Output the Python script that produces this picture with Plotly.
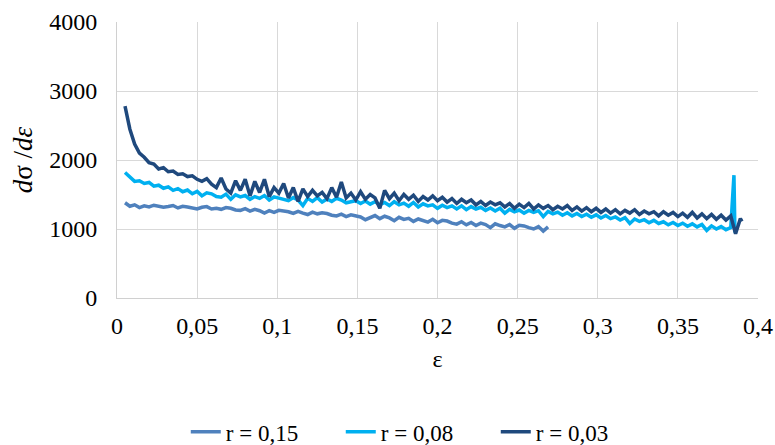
import plotly.graph_objects as go

strain = [0.005, 0.008, 0.011, 0.014, 0.017, 0.020, 0.023, 0.026, 0.029, 0.032,
          0.035, 0.038, 0.041, 0.044, 0.047, 0.050, 0.053, 0.056, 0.059, 0.062,
          0.065, 0.068, 0.071, 0.074, 0.077, 0.080, 0.083, 0.086, 0.089, 0.092,
          0.095, 0.098, 0.101, 0.104, 0.107, 0.110, 0.113, 0.116, 0.119, 0.122,
          0.125, 0.128, 0.131, 0.134, 0.137, 0.140, 0.143, 0.146, 0.149, 0.152,
          0.155, 0.158, 0.161, 0.164, 0.167, 0.170, 0.173, 0.176, 0.179, 0.182,
          0.185, 0.188, 0.191, 0.194, 0.197, 0.200, 0.203, 0.206, 0.209, 0.212,
          0.215, 0.218, 0.221, 0.224, 0.227, 0.230, 0.233, 0.236, 0.239, 0.242,
          0.245, 0.248, 0.251, 0.254, 0.257, 0.260, 0.263, 0.266, 0.269, 0.272,
          0.275, 0.278, 0.281, 0.284, 0.287, 0.290, 0.293, 0.296, 0.299, 0.302,
          0.305, 0.308, 0.311, 0.314, 0.317, 0.320, 0.323, 0.326, 0.329, 0.332,
          0.335, 0.338, 0.341, 0.344, 0.347, 0.350, 0.353, 0.356, 0.359, 0.362,
          0.365, 0.368, 0.371, 0.374, 0.377, 0.380, 0.383, 0.386]

# r = 0.15 (first 89 strain points)
r015 = [1380, 1330, 1350, 1310, 1335, 1320, 1345, 1330, 1315, 1325,
        1340, 1305, 1330, 1320, 1300, 1290, 1315, 1325, 1290, 1300,
        1285, 1310, 1300, 1275, 1270, 1295, 1260, 1285, 1265, 1230,
        1265, 1240, 1270, 1260, 1250, 1225, 1255, 1230, 1210, 1245,
        1220, 1235, 1225, 1200, 1190, 1215, 1180, 1205, 1195, 1175,
        1135, 1170, 1195, 1150, 1185, 1160, 1120, 1170, 1140, 1155,
        1110, 1145, 1125, 1100, 1140, 1090, 1125, 1115, 1085, 1070,
        1105, 1060, 1095, 1050, 1085, 1065, 1020, 1075, 1050, 1030,
        1065, 1010, 1055, 1045, 1020, 1000, 1035, 970, 1030]

# r = 0.08 (first 127 strain points, then the end spike)
r008 = [1820, 1760, 1690, 1700, 1660, 1675, 1620, 1635, 1590, 1610,
        1560, 1585, 1540, 1565, 1510, 1545, 1480, 1525, 1510, 1470,
        1460, 1505, 1430, 1495, 1465, 1485, 1430, 1470, 1445, 1485,
        1420, 1465, 1450, 1430, 1410, 1455, 1420, 1340, 1445, 1400,
        1455, 1390, 1435, 1400, 1445, 1420, 1380, 1395, 1410, 1370,
        1405, 1360, 1395, 1350, 1385, 1340, 1395, 1350, 1375, 1330,
        1385, 1320, 1365, 1335, 1350, 1300, 1345, 1310, 1335, 1290,
        1335, 1280, 1325, 1290, 1315, 1270, 1305, 1260, 1300, 1230,
        1285, 1250, 1275, 1230, 1270, 1240, 1265, 1180, 1255, 1220,
        1245, 1200, 1235, 1190, 1225, 1180, 1215, 1170, 1205, 1160,
        1195, 1150, 1175, 1130, 1165, 1080, 1145, 1110, 1135, 1090,
        1125, 1080, 1105, 1060, 1095, 1050, 1085, 1040, 1075, 1030,
        1065, 980, 1045, 1000, 1035, 990, 1020]
r008_end_strain = [0.3850, 0.3856]
r008_end = [1780, 950]

# r = 0.03 (all 128 strain points, then the end)
r003 = [2780, 2450, 2230, 2100, 2040, 1960, 1940, 1870, 1890, 1830,
        1840, 1790, 1800, 1760, 1770, 1720, 1690, 1730, 1650, 1600,
        1740, 1580, 1520, 1700, 1560, 1720, 1480, 1690, 1530, 1720,
        1470, 1600, 1520, 1660, 1450, 1600, 1400, 1580, 1470, 1560,
        1480, 1530, 1440, 1600, 1460, 1680, 1450, 1520, 1420, 1540,
        1430, 1500, 1450, 1300, 1560, 1440, 1520, 1410, 1500, 1430,
        1490, 1400, 1470, 1420, 1480, 1410, 1460, 1390, 1440, 1370,
        1430, 1380, 1420, 1350, 1400, 1340, 1390, 1350, 1380, 1320,
        1370, 1300, 1360, 1310, 1370, 1290, 1350, 1300, 1340, 1280,
        1330, 1290, 1340, 1270, 1320, 1260, 1310, 1250, 1300, 1240,
        1290, 1230, 1280, 1220, 1270, 1230, 1280, 1210, 1260, 1220,
        1250, 1190, 1250, 1200, 1240, 1180, 1230, 1170, 1240, 1160,
        1220, 1150, 1210, 1140, 1200, 1130, 1190, 930]
r003_end_strain = [0.389, 0.390]
r003_end = [1150, 1110]

x_tickvals = [0, 0.05, 0.1, 0.15, 0.2, 0.25, 0.3, 0.35, 0.4]
x_ticktext = ["0", "0,05", "0,1", "0,15", "0,2", "0,25", "0,3", "0,35", "0,4"]
y_tickvals = [0, 1000, 2000, 3000, 4000]

names = ["r = 0,15", "r = 0,08", "r = 0,03"]
colors = ["#4F81BD", "#00B0F0", "#1F497D"]

FONT = "Times New Roman, Liberation Serif, serif"

fig = go.Figure()
fig.add_trace(go.Scatter(x=strain[:len(r015)], y=r015, mode="lines", name=names[0],
                         line=dict(color=colors[0], width=3.5)))
fig.add_trace(go.Scatter(x=strain[:len(r008)] + r008_end_strain, y=r008 + r008_end,
                         mode="lines", name=names[1],
                         line=dict(color=colors[1], width=3.5)))
fig.add_trace(go.Scatter(x=strain + r003_end_strain, y=r003 + r003_end,
                         mode="lines", name=names[2],
                         line=dict(color=colors[2], width=3.5)))

fig.update_layout(
    width=775, height=445,
    margin=dict(l=117, r=17, t=22, b=147, autoexpand=False),
    paper_bgcolor="white", plot_bgcolor="white",
    font=dict(family=FONT, size=23, color="#000000"),
    showlegend=True,
    legend=dict(orientation="h", x=0.470, xanchor="center",
                y=-0.485, yanchor="middle",
                entrywidth=110, entrywidthmode="pixels",
                font=dict(family=FONT, size=23)),
    xaxis=dict(range=[0, 0.4], tickvals=x_tickvals, ticktext=x_ticktext,
               tickfont=dict(family=FONT, size=24),
               showgrid=True, gridcolor="#D9D9D9", gridwidth=1,
               showline=True, linecolor="#D0D0D0", linewidth=1, mirror=False,
               zeroline=False, ticks="", ticklabelstandoff=6, automargin=False,
               title=dict(text="ε", standoff=12, font=dict(family=FONT, size=24))),
    yaxis=dict(range=[0, 4000], tickvals=y_tickvals,
               tickfont=dict(family=FONT, size=24),
               showgrid=True, gridcolor="#D9D9D9", gridwidth=1,
               showline=True, linecolor="#D0D0D0", linewidth=1,
               zeroline=False, ticks="", ticklabelstandoff=14, automargin=False,
               title=dict(text="<i>d</i>σ /<i>dε</i>", standoff=8,
                          font=dict(family=FONT, size=27))),
)

fig.write_html("out.html", config={"displayModeBar": False},
               post_script="document.body.style.margin='0';document.body.style.padding='0';")
